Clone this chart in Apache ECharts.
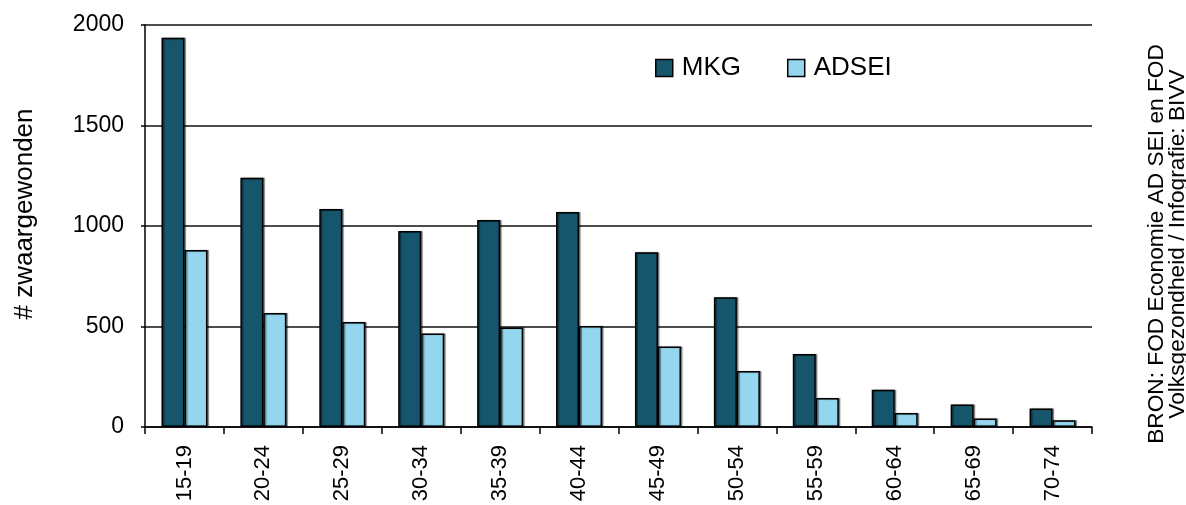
<!DOCTYPE html>
<html>
<head>
<meta charset="utf-8">
<script src="https://cdn.jsdelivr.net/npm/echarts@6/dist/echarts.min.js"></script>
<style>
  html, body { margin: 0; padding: 0; background: #fff; }
  #chart { width: 1186px; height: 505px; }
</style>
</head>
<body>
<div id="chart"></div>
<script>
// Age groups (years)
const ageGroups = ['15-19', '20-24', '25-29', '30-34', '35-39', '40-44', '45-49', '50-54', '55-59', '60-64', '65-69', '70-74'];
// Seriously injured per age group, by source
const mkgValues = [1937, 1240, 1085, 975, 1030, 1070, 870, 645, 363, 185, 112, 92];
const adseiValues = [880, 567, 522, 465, 495, 503, 400, 278, 144, 70, 42, 33];
// Value axis ticks
const yTicks = [0, 500, 1000, 1500, 2000];

const font = 'Liberation Sans, Arial, sans-serif';
const chart = echarts.init(document.getElementById('chart'), null, { renderer: 'canvas' });

const barStyle = (color) => ({
  color: color,
  borderColor: '#000',
  borderWidth: 1.5,
  shadowColor: 'rgba(0,0,0,0.45)',
  shadowOffsetX: 1.5,
  shadowOffsetY: 0,
  shadowBlur: 1
});

chart.setOption({
  animation: false,
  backgroundColor: '#fff',
  grid: { left: 145, right: 94, top: 25, bottom: 78, containLabel: false },
  legend: {
    left: 650, top: 50,
    itemWidth: 17, itemHeight: 17, itemGap: 46,
    icon: 'rect',
    textStyle: { fontFamily: font, fontSize: 26, color: '#000', padding: [0, 0, 0, 4] },
    data: [
      { name: 'MKG', itemStyle: { color: '#16566C', borderColor: '#000', borderWidth: 1.5 } },
      { name: 'ADSEI', itemStyle: { color: '#93D6EE', borderColor: '#000', borderWidth: 1.5 } }
    ]
  },
  xAxis: {
    type: 'category',
    data: ageGroups,
    axisLine: { lineStyle: { color: '#000', width: 1.5 } },
    axisTick: { show: true, length: 7, lineStyle: { color: '#000', width: 1.5 } },
    axisLabel: { rotate: 90, margin: 18, fontFamily: font, fontSize: 22, color: '#000' }
  },
  yAxis: {
    type: 'value',
    min: yTicks[0], max: yTicks[yTicks.length - 1], interval: 500,
    axisLine: { show: true, lineStyle: { color: '#000', width: 1.5 } },
    axisTick: { show: true, length: 4, lineStyle: { color: '#000', width: 1.5 } },
    axisLabel: { margin: 21, fontFamily: font, fontSize: 23, color: '#000', formatter: (v) => String(v) },
    splitLine: { show: true, lineStyle: { color: '#111', width: 1.5 } }
  },
  series: [
    { name: 'MKG', type: 'bar', data: mkgValues, barWidth: 23, barGap: '0%', itemStyle: barStyle('#16566C') },
    { name: 'ADSEI', type: 'bar', data: adseiValues, barWidth: 23, barGap: '0%', itemStyle: barStyle('#93D6EE') }
  ],
  graphic: [
    // value axis title
    {
      type: 'text', x: 25, y: 214, rotation: Math.PI / 2,
      style: { text: '# zwaargewonden', font: '26px ' + font, fill: '#000', align: 'center', verticalAlign: 'middle' }
    },
    // source note, two lines
    {
      type: 'text', x: 1157, y: 244, rotation: Math.PI / 2,
      style: { text: 'BRON: FOD Economie AD SEI en FOD', font: '22.7px ' + font, fill: '#000', align: 'center', verticalAlign: 'middle' }
    },
    {
      type: 'text', x: 1178, y: 244, rotation: Math.PI / 2,
      style: { text: 'Volksgezondheid / Infografie: BIVV', font: '22.7px ' + font, fill: '#000', align: 'center', verticalAlign: 'middle' }
    }
  ]
});
</script>
</body>
</html>
